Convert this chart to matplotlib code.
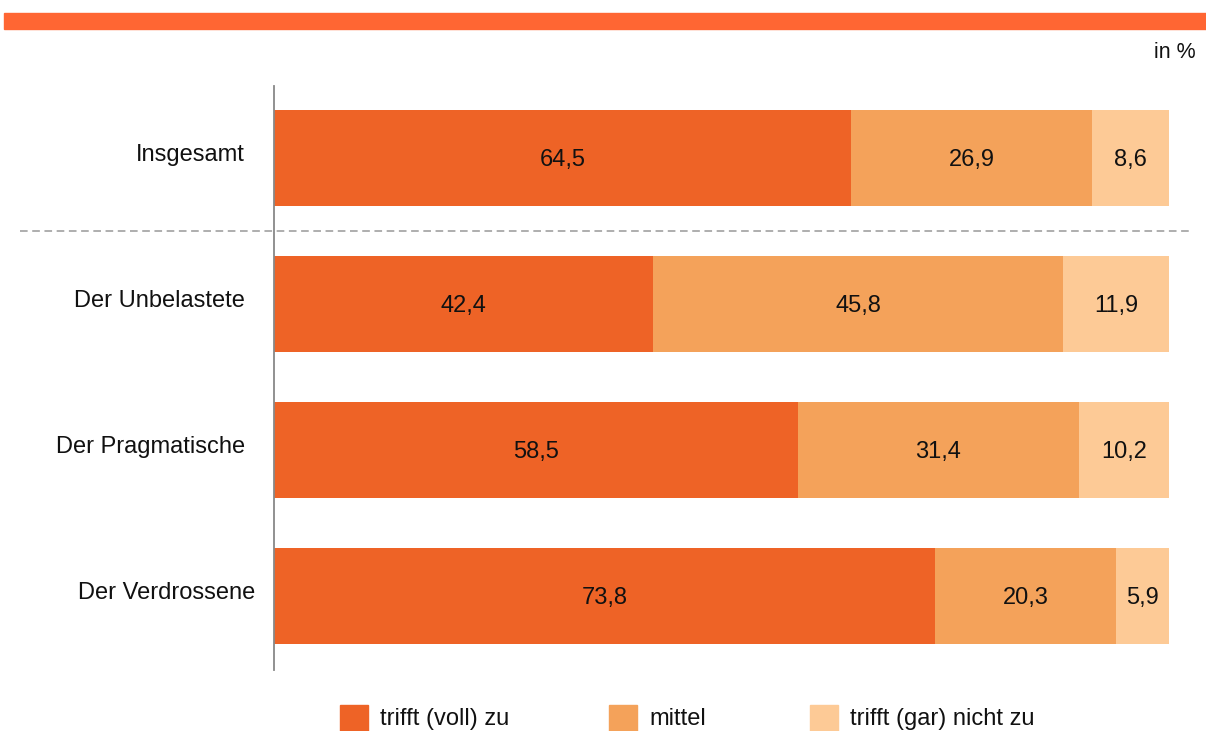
import matplotlib.pyplot as plt
from matplotlib.patches import Rectangle
import numpy as np

plt.rcParams['font.family'] = ['Liberation Sans', 'DejaVu Sans']

groups = ['Insgesamt', 'Der Unbelastete', 'Der Pragmatische', 'Der Verdrossene']
voll = [64.5, 42.4, 58.5, 73.8]
mittel = [26.9, 45.8, 31.4, 20.3]
nicht = [8.6, 11.9, 10.2, 5.9]
series_names = ['trifft (voll) zu', 'mittel', 'trifft (gar) nicht zu']
colors = ['#EE6326', '#F4A25A', '#FDCA96']

fig = plt.figure(figsize=(12.06, 7.31), dpi=100)
ax = fig.add_axes([274 / 1206, 1 - 670 / 731, 895 / 1206, 584 / 731])

y = np.arange(len(groups))
left = np.zeros(len(groups))
for vals, col in zip([voll, mittel, nicht], colors):
    vals = np.array(vals)
    ax.barh(y, vals, left=left, height=0.664, color=col, edgecolor='none')
    for yi, l, v in zip(y, left, vals):
        ax.text(l + v / 2, yi + 0.012, f'{v:.1f}'.replace('.', ','), ha='center', va='center',
                fontsize=17, color='#111111')
    left = left + vals

ax.set_xlim(0, 100)
ax.set_ylim(3.507, -0.493)
ax.set_xticks([])
ax.set_yticks([])
for s in ['top', 'right', 'bottom']:
    ax.spines[s].set_visible(False)
ax.spines['left'].set_color('#888888')
ax.spines['left'].set_linewidth(1.3)

# category labels (last one sits a bit further right in the original)
label_x = [-3.25, -3.25, -3.25, -2.15]
for yi, g, lx in zip(y, groups, label_x):
    ax.text(lx, yi - 0.018, g, ha='right', va='center', fontsize=17, color='#111111')

# separator between total and types
ax.plot([-28.4, 102.6], [0.5, 0.5], ls=(0, (5, 3)), color='#999999', lw=1.1, clip_on=False)

# top bar and unit
fig.add_artist(Rectangle((4 / 1206, 1 - 29 / 731), 1, 16 / 731, color='#FF6633',
                         transform=fig.transFigure))
fig.text(1196 / 1206, 1 - 52 / 731, 'in %', ha='right', va='center', fontsize=15.5, color='#111111')

# legend
leg_x = [340, 609, 810]
for lx, name, col in zip(leg_x, series_names, colors):
    fig.add_artist(Rectangle((lx / 1206, 0), 28 / 1206, 26 / 731, color=col,
                             transform=fig.transFigure))
    fig.text((lx + 40) / 1206, 1 - 719 / 731, name, ha='left', va='center', fontsize=17,
             color='#111111')

fig.savefig('out.png', dpi=100)
